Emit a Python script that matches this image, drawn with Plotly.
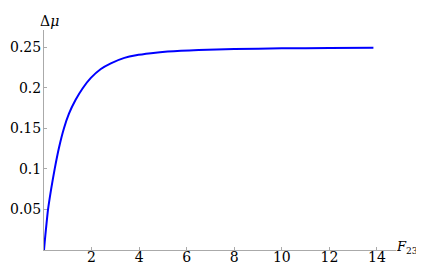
import plotly.graph_objects as go

F23 = [0, 0.03, 0.08, 0.17, 0.30, 0.45, 0.63, 0.84, 1.05, 1.33, 1.62, 1.97, 2.39, 2.81, 3.38, 3.87, 4.5, 5.2, 6.5, 8.0, 10.0, 12.0, 13.85]
dmu = [0, 0.010, 0.025, 0.050, 0.075, 0.100, 0.126, 0.150, 0.168, 0.185, 0.199, 0.212, 0.223, 0.2300, 0.2367, 0.2400, 0.2425, 0.2445, 0.2465, 0.2476, 0.2484, 0.2488, 0.2490]

xticks = [2, 4, 6, 8, 10, 12, 14]
yticks = [0.05, 0.1, 0.15, 0.2, 0.25]
ytick_labels = ["0.05", "0.1", "0.15", "0.2", "0.25"]

font = dict(family="DejaVu Serif", size=14, color="black")
label_font = dict(family="DejaVu Serif", size=13, color="black")

fig = go.Figure()
fig.add_trace(go.Scatter(x=F23, y=dmu, mode="lines",
                         line=dict(color="#0000ff", width=2, shape="spline", smoothing=0.5),
                         hoverinfo="skip", showlegend=False))

fig.update_layout(
    width=424, height=264,
    margin=dict(l=36, r=36, t=22, b=22),
    plot_bgcolor="white", paper_bgcolor="white",
    font=font,
    xaxis=dict(range=[0, 14.8], tickvals=xticks, ticktext=[str(v) for v in xticks],
               showgrid=False, zeroline=False, showline=True, linecolor="#aaaaaa", linewidth=1,
               ticks="inside", ticklen=3, tickcolor="#aaaaaa", tickfont=font, automargin=False,
               ticklabelstandoff=-6),
    yaxis=dict(range=[0, 0.271], tickvals=yticks, ticktext=ytick_labels,
               showgrid=False, zeroline=False, showline=True, linecolor="#aaaaaa", linewidth=1,
               ticks="inside", ticklen=3, tickcolor="#aaaaaa", tickfont=font, automargin=False,
               ticklabelstandoff=-1),
    annotations=[
        dict(text="Δ<i>μ</i>", xref="paper", yref="paper", x=0, y=1, xanchor="left", yanchor="bottom",
             xshift=-6, yshift=-1, showarrow=False, font=font),
        dict(text="<i>F</i><sub>23</sub>", xref="paper", yref="paper", x=1, y=0, xanchor="left", yanchor="middle",
             xshift=-2, yshift=3, showarrow=False, font=label_font),
    ],
)

fig.write_html("out.html")
